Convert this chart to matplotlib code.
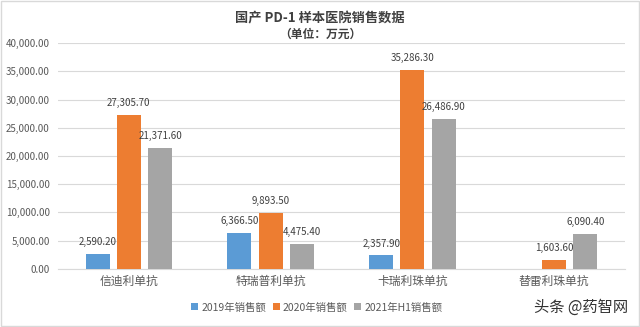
import matplotlib
matplotlib.use("Agg")
import matplotlib.pyplot as plt
import numpy as np
from matplotlib.ticker import FuncFormatter

plt.rcParams['font.family'] = ['Noto Sans CJK SC', 'DejaVu Sans']

categories = ["信迪利单抗", "特瑞普利单抗", "卡瑞利珠单抗", "替雷利珠单抗"]
series_names = ["2019年销售额", "2020年销售额", "2021年H1销售额"]
sales_2019 = [2590.20, 6366.50, 2357.90, None]
sales_2020 = [27305.70, 9893.50, 35286.30, 1603.60]
sales_2021h1 = [21371.60, 4475.40, 26486.90, 6090.40]
colors = ["#5B9BD5", "#ED7D31", "#A5A5A5"]

fig = plt.figure(figsize=(6.4, 3.27), dpi=100)
fig.patch.set_facecolor("white")
ax = fig.add_axes([0.0906, 0.178, 0.886, 0.690])

x = np.arange(len(categories))
width = 0.17
offsets = [-0.22, 0.0, 0.22]
all_series = [sales_2019, sales_2020, sales_2021h1]
for s, (vals, name, c, off) in enumerate(zip(all_series, series_names, colors, offsets)):
    xs = [xi + off for xi, v in zip(x, vals) if v is not None]
    vs = [v for v in vals if v is not None]
    bars = ax.bar(xs, vs, width, color=c, label=name, zorder=3)
    for xi, v in zip(xs, vs):
        ax.annotate(f"{v:,.2f}", (xi, v), xytext=(0, 5), textcoords="offset points",
                    ha="center", va="bottom", fontsize=7, color="#404040", zorder=4)

ax.set_xlim(-0.5, len(categories) - 0.5)
ax.set_ylim(0, 40000)
ax.set_yticks(np.arange(0, 40001, 5000))
ax.yaxis.set_major_formatter(FuncFormatter(lambda v, p: f"{v:,.2f}"))
ax.set_xticks(x)
ax.set_xticklabels(categories, fontsize=8.5, color="#595959")
ax.tick_params(axis="y", labelsize=7, colors="#595959", length=0, pad=6)
ax.tick_params(axis="x", length=0, pad=4)
ax.grid(axis="y", color="#D9D9D9", linewidth=0.8, zorder=0)
for sp in ["top", "right", "left"]:
    ax.spines[sp].set_visible(False)
ax.spines["bottom"].set_color("#D9D9D9")

fig.text(0.5, 0.945, "国产 PD-1 样本医院销售数据", ha="center", va="center",
         fontsize=9.5, fontweight="bold", color="#404040")
fig.text(0.5, 0.895, "（单位：万元）", ha="center", va="center",
         fontsize=8.5, fontweight="bold", color="#404040")

leg = fig.legend(loc="center", bbox_to_anchor=(0.495, 0.06), ncol=3, frameon=False,
                 fontsize=7.5, handlelength=0.7, handleheight=0.7, handletextpad=0.3,
                 columnspacing=0.6, labelcolor="#595959")

fig.text(0.982, 0.06, "头条 @药智网", ha="right", va="center", fontsize=11, color="#333333")

fig.add_artist(plt.Rectangle((0.002, 0.003), 0.996, 0.994, transform=fig.transFigure,
                             fill=False, edgecolor="#D9D9D9", linewidth=1))

fig.savefig("out.png", dpi=100)
